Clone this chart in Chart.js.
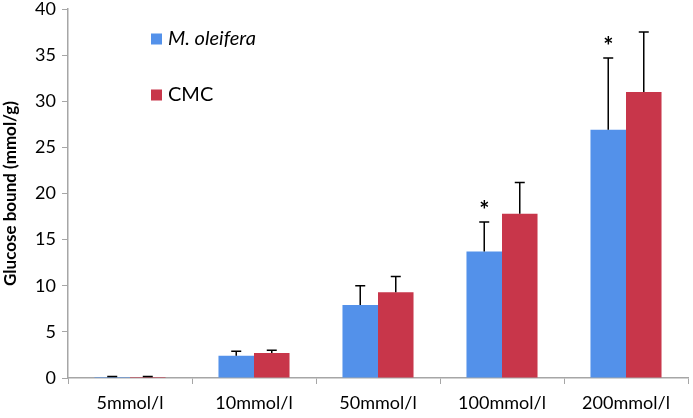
<!DOCTYPE html>
<html><head><meta charset="utf-8">
<script src="https://cdn.jsdelivr.net/npm/chart.js@4/dist/chart.umd.min.js"></script>
<style>html,body{margin:0;padding:0;background:#fff}#wrap{width:693px;height:418px}</style>
</head><body><div id="wrap"><canvas id="c"></canvas></div>
<script>
const categories = ['5mmol/l','10mmol/l','50mmol/l','100mmol/l','200mmol/l'];
const oleiferaValues = [0.1, 2.4, 7.9, 13.7, 26.9];
const oleiferaErrors = [0.05, 0.5, 2.1, 3.2, 7.8];
const cmcValues = [0.1, 2.7, 9.3, 17.8, 31.0];
const cmcErrors = [0.05, 0.3, 1.7, 3.4, 6.5];
const oleiferaMarks = ['', '', '', '*', '*'];
const yTicks = [0,5,10,15,20,25,30,35,40];
const FONT = 'Lato, "Open Sans", sans-serif';

const errorPlugin = {
  id: 'errs',
  afterDatasetsDraw(chart) {
    const ctx = chart.ctx, y = chart.scales.y;
    const errs = [oleiferaErrors, cmcErrors];
    const vals = [oleiferaValues, cmcValues];
    chart.data.datasets.forEach((ds, di) => {
      const meta = chart.getDatasetMeta(di);
      meta.data.forEach((bar, i) => {
        const top = y.getPixelForValue(vals[di][i] + errs[di][i]);
        ctx.save();
        ctx.strokeStyle = '#000'; ctx.lineWidth = 1.5;
        ctx.beginPath();
        ctx.moveTo(bar.x, bar.y); ctx.lineTo(bar.x, top);
        ctx.moveTo(bar.x - 5, top); ctx.lineTo(bar.x + 5, top);
        ctx.stroke();
        if (di === 0 && oleiferaMarks[i]) {
          ctx.fillStyle = '#000';
          ctx.font = 'bold 24px ' + FONT;
          ctx.textAlign = 'center'; ctx.textBaseline = 'middle';
          ctx.fillText(oleiferaMarks[i], bar.x, top - 11);
        }
        ctx.restore();
      });
    });
  }
};

const legendPlugin = {
  id: 'leg',
  afterDraw(chart) {
    const ctx = chart.ctx;
    const items = [
      {label: 'M. oleifera', color: '#5391EA', italic: true, y: 39},
      {label: 'CMC', color: '#C8364A', italic: false, y: 95}
    ];
    ctx.save();
    items.forEach(it => {
      ctx.fillStyle = it.color;
      ctx.fillRect(151, it.y - 5.5, 11, 11);
      ctx.fillStyle = '#000';
      ctx.font = (it.italic ? 'italic ' : '') + '20px ' + FONT;
      ctx.textAlign = 'left'; ctx.textBaseline = 'middle';
      ctx.fillText(it.label, 168, it.y);
    });
    ctx.restore();
  }
};

new Chart(document.getElementById('c'), {
  type: 'bar',
  data: {
    labels: categories,
    datasets: [
      {label: 'M. oleifera', data: oleiferaValues, backgroundColor: '#5391EA', categoryPercentage: 0.573, barPercentage: 1.0},
      {label: 'CMC', data: cmcValues, backgroundColor: '#C8364A', categoryPercentage: 0.573, barPercentage: 1.0}
    ]
  },
  options: {
    responsive: true, maintainAspectRatio: false, animation: false,
    layout: {padding: {left: 0, right: 5, top: 9, bottom: 0}},
    plugins: {legend: {display: false}, tooltip: {enabled: false}},
    scales: {
      x: {
        offset: true,
        grid: {display: true, offset: true, drawOnChartArea: false, tickLength: 6, color: '#A6A6A6'},
        border: {color: '#A6A6A6', width: 1.5},
        ticks: {color: '#000', font: {family: FONT, size: 18}, padding: 8, maxRotation: 0},
        afterFit(s) { s.height = 40; s.paddingLeft = 0; s.paddingRight = 0; }
      },
      y: {
        min: 0, max: 40,
        afterBuildTicks(s) { s.ticks = yTicks.map(v => ({value: v})); },
        grid: {display: true, drawOnChartArea: false, tickLength: 6, color: '#A6A6A6'},
        border: {color: '#A6A6A6', width: 1.5},
        ticks: {color: '#000', font: {family: FONT, size: 18}, padding: 6},
        title: {display: true, text: 'Glucose bound (mmol/g)', color: '#000', font: {family: FONT, size: 17, weight: 'bold'}, padding: {top: 0, bottom: 2}},
        afterFit(s) { s.width = 68; s.paddingTop = 0; s.paddingBottom = 0; }
      }
    }
  },
  plugins: [errorPlugin, legendPlugin]
});
</script></body></html>
